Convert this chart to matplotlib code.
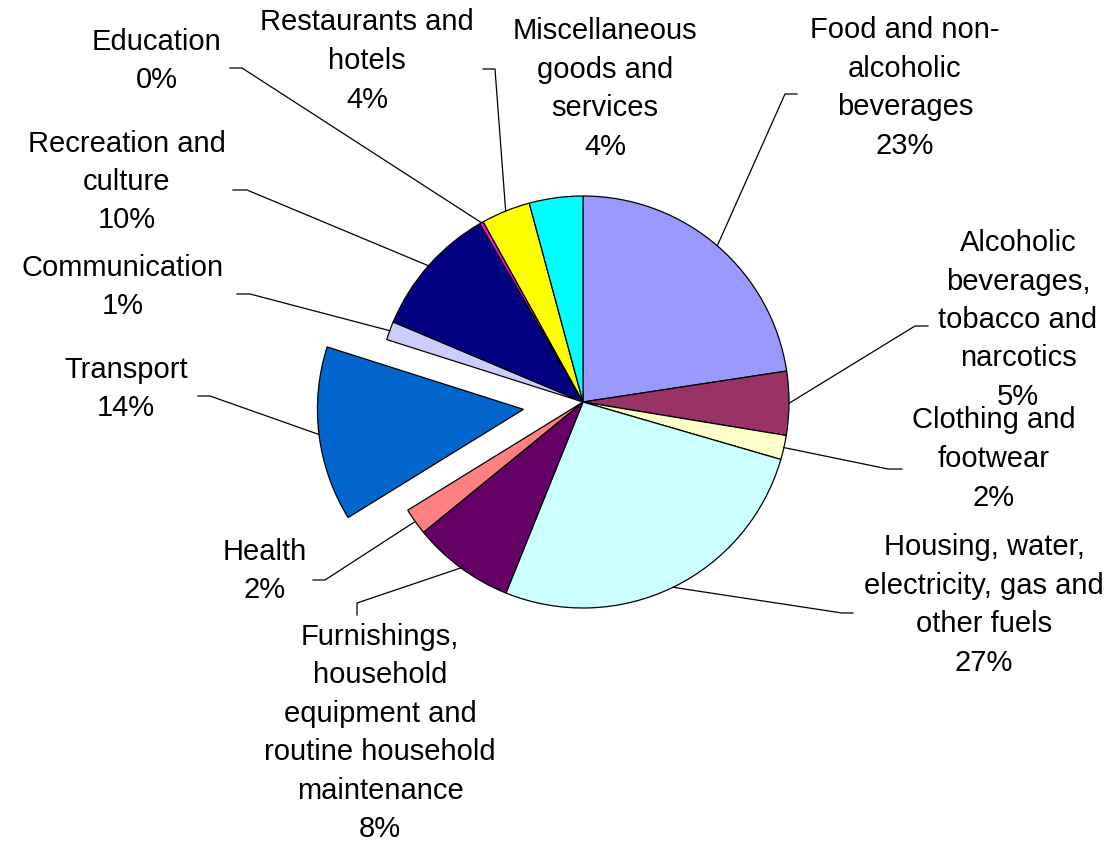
import numpy as np
import matplotlib
matplotlib.use("Agg")
import matplotlib.pyplot as plt

# ---- data ----
categories = [
    "Food and non-\nalcoholic\nbeverages",
    "Alcoholic\nbeverages,\ntobacco and\nnarcotics",
    "Clothing and\nfootwear",
    "Housing, water,\nelectricity, gas and\nother fuels",
    "Furnishings,\nhousehold\nequipment and\nroutine household\nmaintenance",
    "Health",
    "Transport",
    "Communication",
    "Recreation and\nculture",
    "Education",
    "Restaurants and\nhotels",
    "Miscellaneous\ngoods and\nservices",
]
shares = [22.6, 5.0, 1.9, 26.6, 8.0, 2.1, 13.7, 1.45, 10.3, 0.3, 3.85, 4.2]
colors = ["#9999FF", "#993366", "#FFFFCC", "#CCFFFF", "#660066", "#FF8080",
          "#0066CC", "#CCCCFF", "#000080", "#FF00FF", "#FFFF00", "#00FFFF"]
exploded = "Transport"

# ---- layout (pixel coordinates, y from top) ----
W, H = 1106, 842
CX, CY, R = 583, 402, 206
EXPLODE = 60
PITCH = 38.5
label_xy = [(905, 88), (1018, 320), (994, 459), (984, 605), (380, 733),
            (265, 571), (126, 389), (123, 287), (127, 182), (157, 61),
            (367, 61), (605, 89)]
leader_start = [[(797, 94), (785, 94)], [(928, 326), (915, 326)],
                [(902, 469), (888, 469)], [(853, 613), (842, 613)],
                [(357, 615), (357, 603)], [(313, 580), (325, 580)],
                [(198, 396), (210, 396)], [(237, 294), (250, 294)],
                [(233, 190), (247, 190)], [(230, 68), (242, 68)],
                [(483, 69), (495, 69)], None]

fig = plt.figure(figsize=(W / 100, H / 100), dpi=100)
ax = fig.add_axes([0, 0, 1, 1])

explode = [EXPLODE if c.startswith(exploded) else 0 for c in categories]
wedges, _ = ax.pie(shares, colors=colors, startangle=90, counterclock=False,
                   explode=explode, radius=R, center=(CX, H - CY),
                   wedgeprops=dict(edgecolor="black", linewidth=0.9))

ax.set_xlim(0, W)
ax.set_ylim(0, H)
ax.set_aspect("equal")
ax.axis("off")

for i, (cat, v) in enumerate(zip(categories, shares)):
    x, y = label_xy[i]
    lines = cat.split("\n") + [f"{v:.0f}%"]
    n = len(lines)
    for j, line in enumerate(lines):
        ly = y + (j - (n - 1) / 2) * PITCH
        ax.text(x, H - ly, line, ha="center", va="center",
                fontsize=21, family=["Liberation Sans", "DejaVu Sans"],
                color="black")
    if leader_start[i] is not None:
        w = wedges[i]
        tm = np.deg2rad((w.theta1 + w.theta2) / 2)
        ex = w.center[0] + w.r * np.cos(tm)
        ey = w.center[1] + w.r * np.sin(tm)
        xs = [p[0] for p in leader_start[i]] + [ex]
        ys = [H - p[1] for p in leader_start[i]] + [ey]
        ax.plot(xs, ys, color="black", linewidth=0.9)

fig.savefig("out.png", dpi=100)
